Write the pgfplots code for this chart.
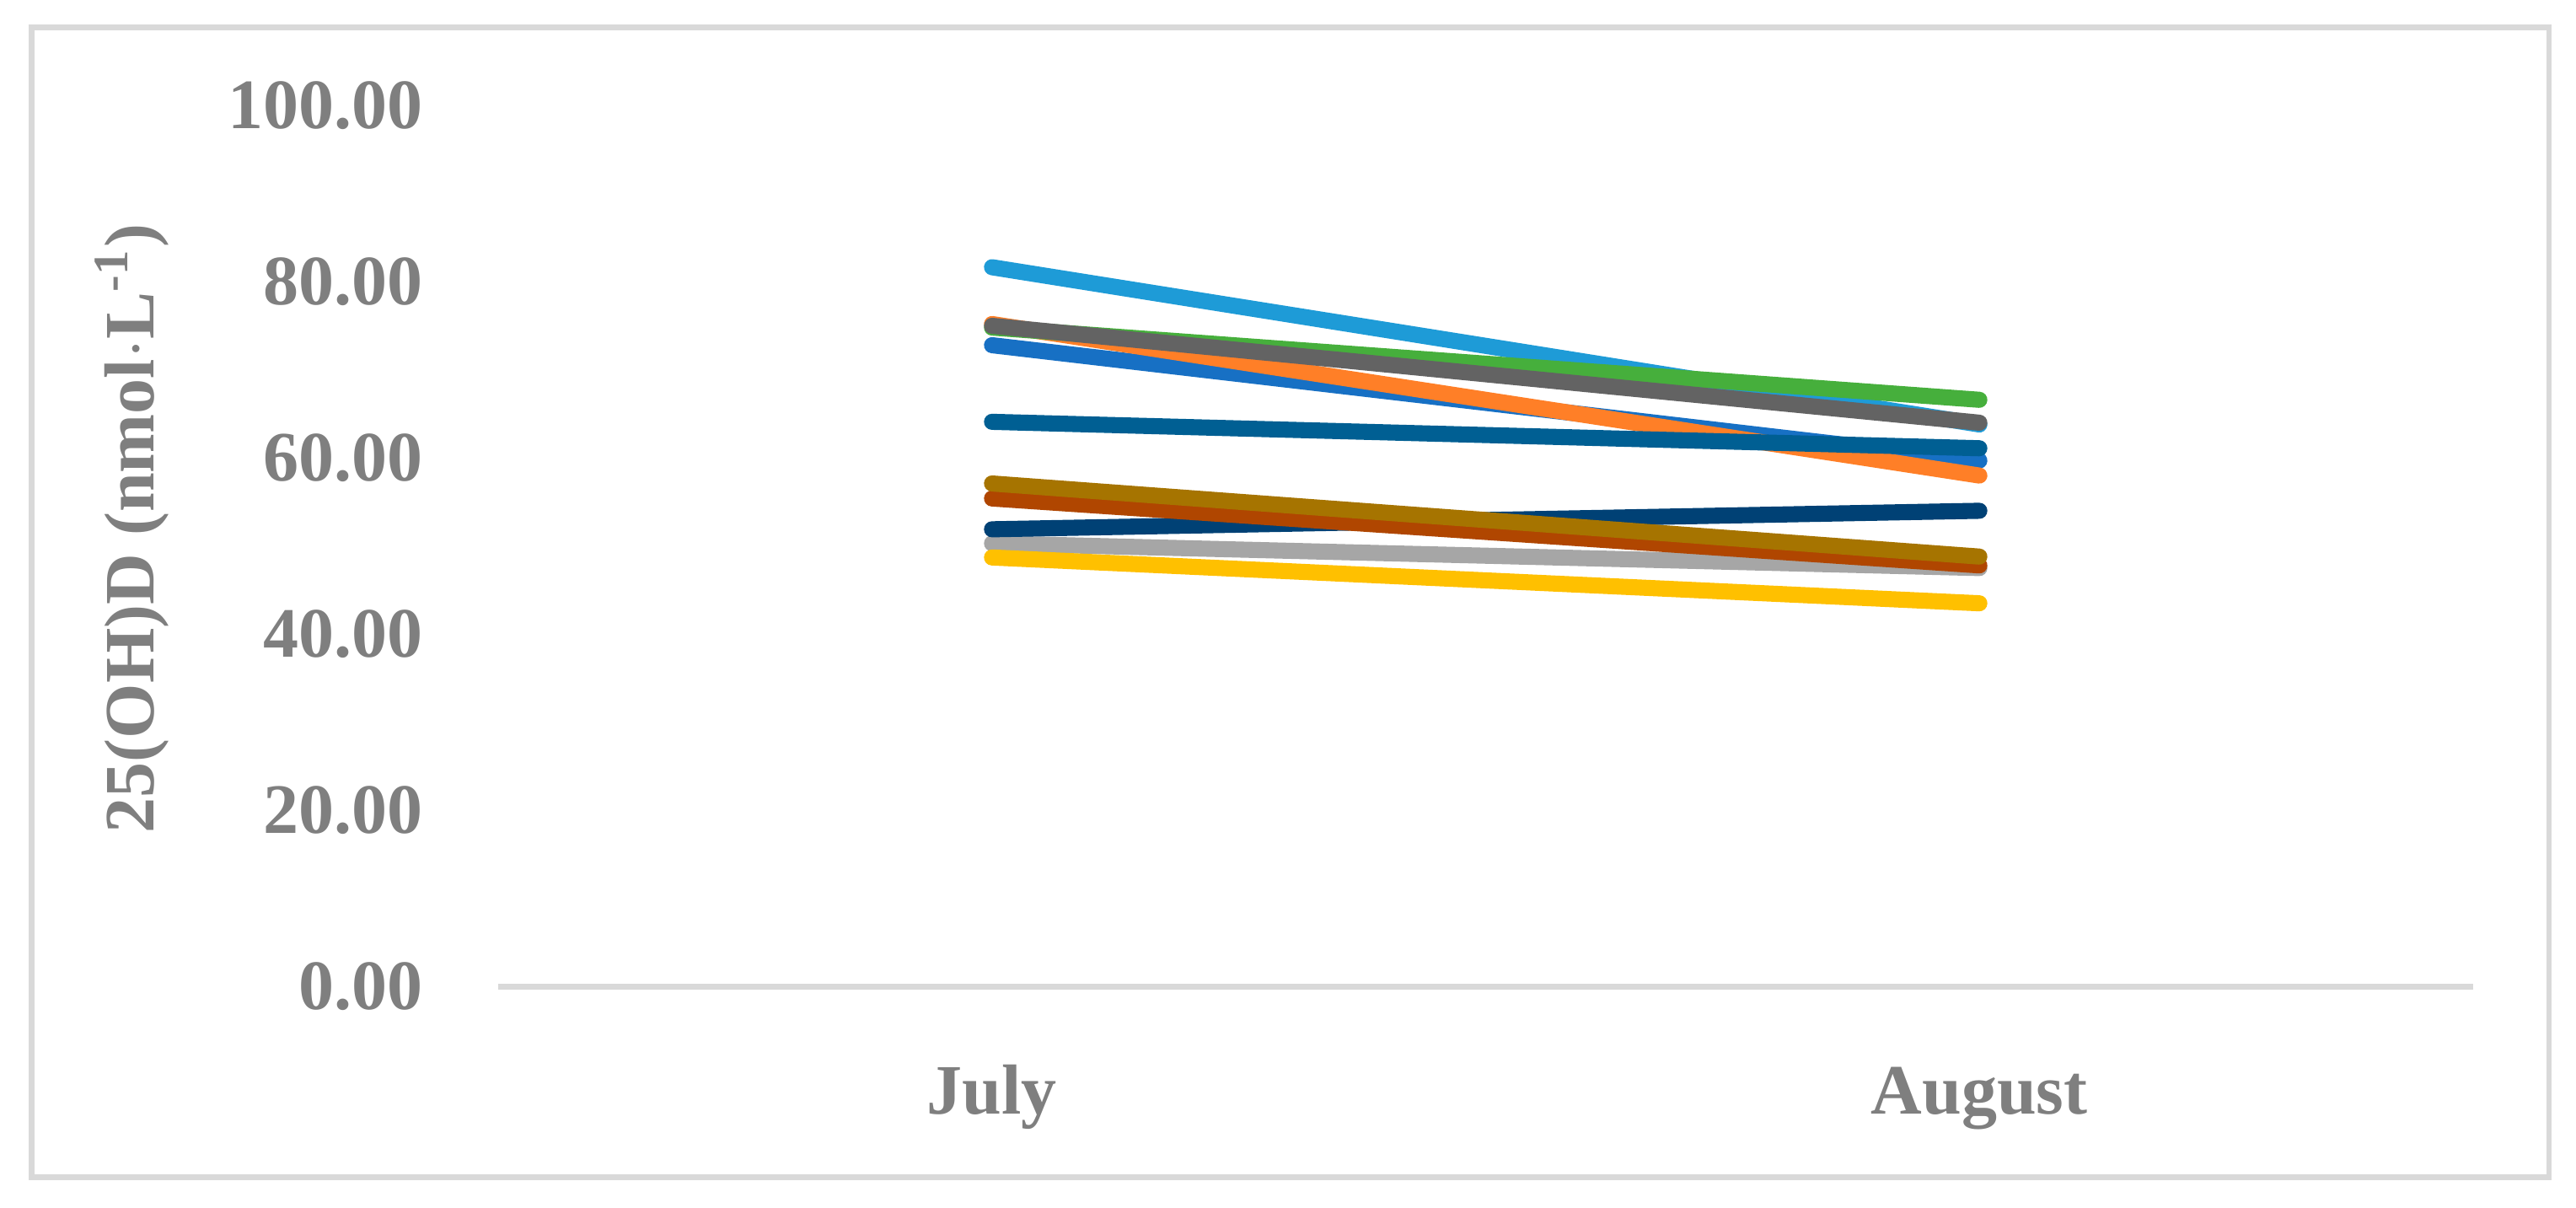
\documentclass[border=0pt]{standalone}
\usepackage{fontspec}
\setmainfont{Liberation Serif}
\usepackage{pgfplots}
\pgfplotsset{compat=1.18}
\usetikzlibrary{calc}
\definecolor{cblue}{HTML}{1770C4}
\definecolor{corange}{HTML}{FF7F27}
\definecolor{clgray}{HTML}{A6A6A6}
\definecolor{cyellow}{HTML}{FFC000}
\definecolor{clblue}{HTML}{1E9BD7}
\definecolor{cgreen}{HTML}{46AF3C}
\definecolor{cnavy}{HTML}{004175}
\definecolor{cdorange}{HTML}{B04600}
\definecolor{cdgray}{HTML}{636363}
\definecolor{colive}{HTML}{A67400}
\definecolor{cteal}{HTML}{005F93}
\definecolor{cborder}{HTML}{D9D9D9}
\definecolor{ctext}{HTML}{7F7F7F}
\begin{document}
\begin{tikzpicture}
\begin{axis}[
  name=ax,
  scale only axis,
  width=306.7pt, height=136.8pt,
  xmin=-0.5, xmax=1.5, ymin=0, ymax=100,
  axis line style={draw=none},
  tick style={draw=none},
  xtick={0,1}, xticklabels={July,August},
  ytick={0,20,40,60,80,100},
  yticklabel={\pgfmathprintnumber[fixed,fixed zerofill,precision=2]{\tick}},
  /pgf/number format/assume math mode=true,
  major tick length=0pt,
  tick label style={font=\fontsize{11}{12}\selectfont\bfseries, text=ctext},
  yticklabel style={anchor=east, inner sep=0pt, xshift=-11.5pt},
  xticklabel style={anchor=base, inner sep=0pt, yshift=-19.8pt},
  ylabel={25(OH)D (nmol$\cdot$L\textsuperscript{-1})},
  ylabel style={at={(axis description cs:-0.1855,0.52)}, anchor=center, font=\fontsize{11}{12}\selectfont\bfseries, text=ctext},
  clip=false,
  every axis plot/.append style={line width=2.5pt, line cap=round, no marks},
]
\draw[cborder, line width=0.9pt] (axis cs:-0.5,0) -- (axis cs:1.5,0);
\addplot[cblue] coordinates {(0,72.8) (1,59.7)};
\addplot[corange] coordinates {(0,75.2) (1,58.0)};
\addplot[clgray] coordinates {(0,50.3) (1,47.5)};
\addplot[cyellow] coordinates {(0,48.7) (1,43.5)};
\addplot[clblue] coordinates {(0,81.65) (1,63.8)};
\addplot[cgreen] coordinates {(0,74.8) (1,66.6)};
\addplot[cnavy] coordinates {(0,51.9) (1,54.0)};
\addplot[cdorange] coordinates {(0,55.4) (1,47.8)};
\addplot[cdgray] coordinates {(0,75.0) (1,64.0)};
\addplot[colive] coordinates {(0,57.1) (1,48.8)};
\addplot[cteal] coordinates {(0,64.1) (1,61.1)};
\end{axis}
\draw[cborder, line width=0.9pt] ($(ax.south west)+(-72.5pt,-29.6pt)$) rectangle ($(ax.north east)+(11.8pt,12.2pt)$);
\pgfresetboundingbox
\path[use as bounding box] ($(ax.south west)+(-77.4pt,-34.4pt)$) rectangle ($(ax.north east)+(16pt,16.4pt)$);
\end{tikzpicture}
\end{document}
